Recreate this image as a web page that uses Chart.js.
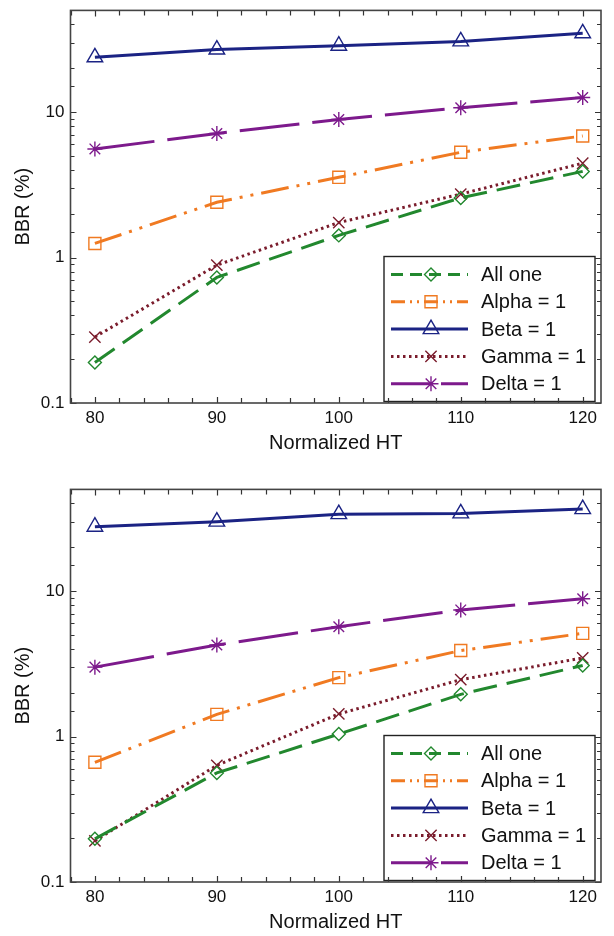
<!DOCTYPE html>
<html>
<head>
<meta charset="utf-8">
<script src="https://cdn.jsdelivr.net/npm/chart.js@4/dist/chart.umd.min.js"></script>
<style>
  body { margin: 0; background: #fff; overflow: hidden; }
  .box { position: absolute; left: 0; width: 614px; height: 460px; }
</style>
</head>
<body>
<div class="box" style="top:0px"><canvas id="bbr_top" width="614" height="460"></canvas></div>
<div class="box" style="top:479px"><canvas id="bbr_bottom" width="614" height="460"></canvas></div>
<script>
// x values (Normalized HT)
let htValues = [80, 90, 100, 110, 120];
let seriesNames = ["All one", "Alpha = 1", "Beta = 1", "Gamma = 1", "Delta = 1"];
let xTickLabels = [80, 90, 100, 110, 120];
let yTickLabels = [0.1, 1, 10];

// upper chart
let allOneTop = [0.19, 0.73, 1.42, 2.57, 3.91];
let alphaTop  = [1.25, 2.40, 3.56, 5.29, 6.85];
let betaTop   = [23.8, 26.9, 28.6, 30.6, 34.8];
let gammaTop  = [0.284, 0.887, 1.74, 2.73, 4.45];
let deltaTop  = [5.58, 7.13, 8.89, 10.7, 12.6];

// lower chart
let allOneBottom = [0.198, 0.562, 1.04, 1.95, 3.08];
let alphaBottom  = [0.665, 1.42, 2.54, 3.90, 5.12];
let betaBottom   = [27.7, 30.0, 33.8, 34.2, 36.6];
let gammaBottom  = [0.192, 0.634, 1.43, 2.46, 3.47];
let deltaBottom  = [3.0, 4.26, 5.69, 7.42, 8.86];

const FONT = "'Liberation Sans', Arial, sans-serif";

// line look for each series
let styles = [
  {color: "#22882e", dash: [24, 10], point: "rectRot", radius: 6.5},
  {color: "#f07a22", dash: [28, 8, 3, 8, 3, 8], point: "rect", radius: 8.5},
  {color: "#1b2384", dash: [], point: "triangle", radius: 9},
  {color: "#7a1c2c", dash: [2.5, 3.5], point: "crossRot", radius: 8},
  {color: "#7d1a8c", dash: [60, 13], point: "star", radius: 7.5}
];

function makeDatasets(list) {
  return list.map(function (vals, i) {
    let st = styles[i];
    return {
      label: seriesNames[i],
      data: vals.map(function (v, j) { return {x: htValues[j], y: v}; }),
      borderColor: st.color,
      backgroundColor: "rgba(0,0,0,0)",
      borderWidth: 3,
      borderDash: st.dash,
      pointStyle: st.point,
      pointRadius: st.radius,
      pointBorderWidth: 1.4,
      pointBorderColor: st.color,
      pointBackgroundColor: "rgba(0,0,0,0)",
      tension: 0
    };
  });
}

// legend sample dashes are shorter than the plotted ones
let legendDash = [[12, 7], [14, 5, 2, 5, 2, 5], [], [2.5, 3.5], [40, 10]];

// frame, inward ticks and boxed legend like the matlab figure
const framePlugin = {
  id: "frame",
  afterDatasetsDraw(chart) {
    let ctx = chart.ctx;
    let a = chart.chartArea;
    let xs = chart.scales.x, ys = chart.scales.y;

    // legend box
    let bw = 211, bh = 145;
    let bx = a.right - 6 - bw, by = a.bottom - 1.5 - bh;
    ctx.save();
    ctx.fillStyle = "#fff";
    ctx.fillRect(bx, by, bw, bh);
    ctx.strokeStyle = "#222";
    ctx.lineWidth = 1.4;
    ctx.strokeRect(bx, by, bw, bh);
    chart.data.datasets.forEach(function (ds, i) {
      let yy = by + 18 + i * 27.3;
      ctx.strokeStyle = ds.borderColor;
      ctx.lineWidth = 3;
      ctx.setLineDash(legendDash[i]);
      ctx.beginPath();
      ctx.moveTo(bx + 7, yy);
      ctx.lineTo(bx + 84, yy);
      ctx.stroke();
      ctx.setLineDash([]);
      ctx.lineWidth = ds.pointBorderWidth;
      ctx.fillStyle = "rgba(0,0,0,0)";
      Chart.helpers.drawPoint(ctx, {pointStyle: ds.pointStyle, rotation: 0, radius: ds.pointRadius, borderWidth: ds.pointBorderWidth}, bx + 47, yy);
      ctx.fillStyle = "#111";
      ctx.font = "20px " + FONT;
      ctx.textBaseline = "middle";
      ctx.textAlign = "left";
      ctx.fillText(ds.label, bx + 97, yy + 1);
    });

    // inward ticks on all four sides
    ctx.strokeStyle = "#333";
    ctx.lineWidth = 1.2;
    xs.ticks.forEach(function (t) {
      let px = Math.round(xs.getPixelForValue(t.value)) + 0.5;
      let len = (t.value % 10 === 0) ? 6 : 5;
      ctx.beginPath();
      ctx.moveTo(px, a.bottom); ctx.lineTo(px, a.bottom - len);
      ctx.moveTo(px, a.top); ctx.lineTo(px, a.top + len);
      ctx.stroke();
    });
    ys.ticks.forEach(function (t) {
      let py = Math.round(ys.getPixelForValue(t.value)) + 0.5;
      let major = yTickLabels.indexOf(t.value) >= 0;
      let len = major ? 6 : 4;
      ctx.beginPath();
      ctx.moveTo(a.left, py); ctx.lineTo(a.left + len, py);
      ctx.moveTo(a.right, py); ctx.lineTo(a.right - len, py);
      ctx.stroke();
    });

    // plot frame
    ctx.strokeStyle = "#444";
    ctx.lineWidth = 1.6;
    ctx.strokeRect(a.left, a.top, a.right - a.left, a.bottom - a.top);
    ctx.restore();
  }
};

function drawChart(id, list) {
  new Chart(id, {
    type: "line",
    data: {datasets: makeDatasets(list)},
    options: {
      responsive: false,
      animation: false,
      devicePixelRatio: 1,
      layout: {padding: {top: 7, right: 13, left: 0, bottom: 0}},
      plugins: {legend: {display: false}, tooltip: {enabled: false}},
      scales: {
        x: {
          type: "linear",
          min: 78,
          max: 121.5,
          grid: {display: false, drawTicks: false},
          border: {display: false},
          ticks: {
            stepSize: 2,
            includeBounds: false,
            autoSkip: false,
            maxRotation: 0,
            padding: 5,
            color: "#111",
            font: {family: FONT, size: 17},
            callback: function (v) { return xTickLabels.indexOf(v) >= 0 ? String(v) : ""; }
          },
          title: {display: true, text: "Normalized HT", color: "#111", font: {family: FONT, size: 20}, padding: {top: 0, bottom: 5}},
          afterFit: function (s) { s.height = 57; s.paddingLeft = 0; s.paddingRight = 0; }
        },
        y: {
          type: "logarithmic",
          min: 0.1,
          max: 50,
          grid: {display: false, drawTicks: false},
          border: {display: false},
          ticks: {
            autoSkip: false,
            padding: 6,
            color: "#111",
            font: {family: FONT, size: 17},
            callback: function (v) { return yTickLabels.indexOf(v) >= 0 ? String(v) : ""; }
          },
          title: {display: true, text: "BBR (%)", color: "#111", font: {family: FONT, size: 20}, padding: {top: 11, bottom: 0}},
          afterFit: function (s) { s.width = 70.5; s.paddingTop = 0; s.paddingBottom = 0; }
        }
      }
    },
    plugins: [framePlugin]
  });
}

drawChart("bbr_top", [allOneTop, alphaTop, betaTop, gammaTop, deltaTop]);
drawChart("bbr_bottom", [allOneBottom, alphaBottom, betaBottom, gammaBottom, deltaBottom]);
</script>
</body>
</html>
